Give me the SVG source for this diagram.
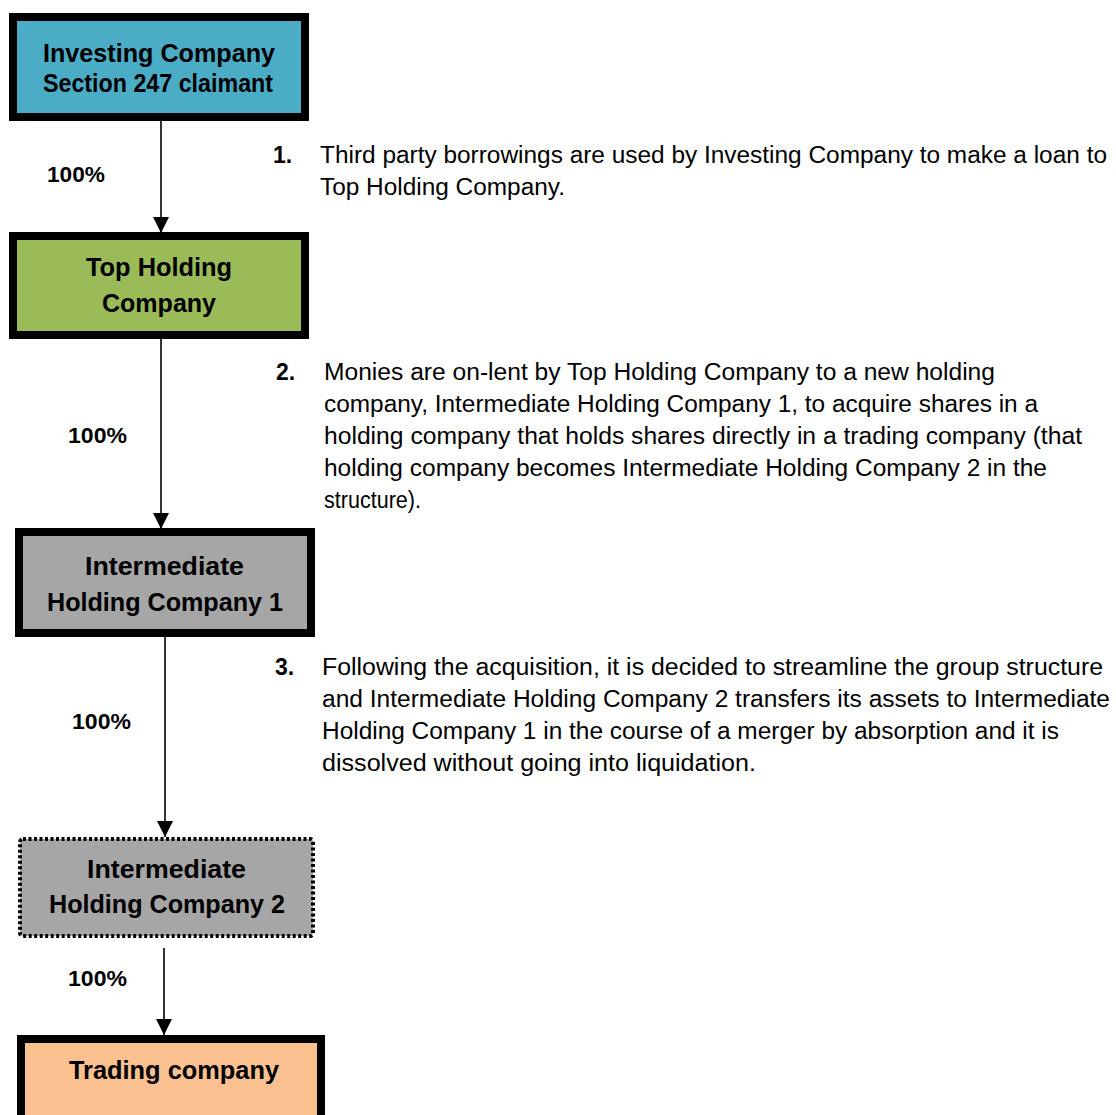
<svg xmlns="http://www.w3.org/2000/svg" width="1116" height="1115" viewBox="0 0 1116 1115">
<style>
.box{stroke:#000;stroke-width:8}
.t{font-family:"Liberation Sans",Arial,sans-serif;font-weight:bold;font-size:25px;fill:#000;text-anchor:middle}
.pct{font-family:"Liberation Sans",Arial,sans-serif;font-weight:bold;font-size:22px;fill:#000}
.num{font-family:"Liberation Sans",Arial,sans-serif;font-weight:bold;font-size:23px;fill:#000}
.b{font-family:"Liberation Sans",Arial,sans-serif;font-size:23px;fill:#000}
.c{stroke:#000;stroke-width:1.6;fill:none}
</style>
<defs>
<marker id="ah" markerUnits="userSpaceOnUse" markerWidth="16" markerHeight="16" viewBox="0 0 14 14" refX="14" refY="7" orient="auto">
<path d="M0,0 L14,7 L0,14 Z" fill="#000"/>
</marker>
</defs>
<rect width="1116" height="1115" fill="#fff"/>
<g id="connectors">
<line class="c" x1="161" y1="121" x2="161" y2="233" marker-end="url(#ah)"/>
<line class="c" x1="161" y1="339" x2="161" y2="529" marker-end="url(#ah)"/>
<line class="c" x1="165" y1="637" x2="165" y2="837" marker-end="url(#ah)"/>
<line class="c" x1="164" y1="948" x2="164" y2="1035" marker-end="url(#ah)"/>
</g>
<g id="investing">
<rect class="box" x="13" y="17" width="292" height="100" fill="#4BACC6"/>
<text class="t" x="159" y="62" textLength="232" lengthAdjust="spacingAndGlyphs">Investing Company</text>
<text class="t" x="158" y="92" font-size="23" textLength="230" lengthAdjust="spacingAndGlyphs">Section 247 claimant</text>
</g>
<g id="top-holding">
<rect class="box" x="13" y="236" width="292" height="99" fill="#9BBB59"/>
<text class="t" x="159" y="276" textLength="146" lengthAdjust="spacingAndGlyphs">Top Holding</text>
<text class="t" x="159" y="312" textLength="114" lengthAdjust="spacingAndGlyphs">Company</text>
</g>
<g id="ihc1">
<rect class="box" x="19" y="532" width="292" height="101" fill="#A6A6A6"/>
<text class="t" x="164.5" y="575" textLength="159" lengthAdjust="spacingAndGlyphs">Intermediate</text>
<text class="t" x="165" y="611" textLength="236" lengthAdjust="spacingAndGlyphs">Holding Company 1</text>
</g>
<g id="ihc2">
<rect x="20" y="839" width="293" height="97" rx="3" fill="#A6A6A6" stroke="#000" stroke-width="4" stroke-dasharray="3 2.5"/>
<text class="t" x="166.5" y="878" textLength="159" lengthAdjust="spacingAndGlyphs">Intermediate</text>
<text class="t" x="167" y="913" textLength="236" lengthAdjust="spacingAndGlyphs">Holding Company 2</text>
</g>
<g id="trading">
<rect class="box" x="21" y="1039" width="300" height="90" fill="#FAC090"/>
<text class="t" x="174" y="1079" textLength="210" lengthAdjust="spacingAndGlyphs">Trading company</text>
</g>
<g id="labels">
<text class="pct" x="47" y="182" textLength="58" lengthAdjust="spacingAndGlyphs">100%</text>
<text class="pct" x="68" y="443" textLength="59" lengthAdjust="spacingAndGlyphs">100%</text>
<text class="pct" x="72" y="729" textLength="59" lengthAdjust="spacingAndGlyphs">100%</text>
<text class="pct" x="68" y="986" textLength="59" lengthAdjust="spacingAndGlyphs">100%</text>
</g>
<g id="note1">
<text class="num" x="273" y="163">1.</text>
<text class="b" x="320" y="163" textLength="787" lengthAdjust="spacingAndGlyphs">Third party borrowings are used by Investing Company to make a loan to</text>
<text class="b" x="320" y="195" textLength="245" lengthAdjust="spacingAndGlyphs">Top Holding Company.</text>
</g>
<g id="note2">
<text class="num" x="276" y="380">2.</text>
<text class="b" x="324" y="380" textLength="671" lengthAdjust="spacingAndGlyphs">Monies are on-lent by Top Holding Company to a new holding</text>
<text class="b" x="324" y="412" textLength="714" lengthAdjust="spacingAndGlyphs">company, Intermediate Holding Company 1, to acquire shares in a</text>
<text class="b" x="324" y="444" textLength="758" lengthAdjust="spacingAndGlyphs">holding company that holds shares directly in a trading company (that</text>
<text class="b" x="324" y="476" textLength="723" lengthAdjust="spacingAndGlyphs">holding company becomes Intermediate Holding Company 2 in the</text>
<text class="b" x="324" y="508" textLength="97" lengthAdjust="spacingAndGlyphs">structure).</text>
</g>
<g id="note3">
<text class="num" x="275" y="675">3.</text>
<text class="b" x="322" y="675" textLength="781" lengthAdjust="spacingAndGlyphs">Following the acquisition, it is decided to streamline the group structure</text>
<text class="b" x="322" y="707" textLength="788" lengthAdjust="spacingAndGlyphs">and Intermediate Holding Company 2 transfers its assets to Intermediate</text>
<text class="b" x="322" y="739" textLength="737" lengthAdjust="spacingAndGlyphs">Holding Company 1 in the course of a merger by absorption and it is</text>
<text class="b" x="322" y="771" textLength="434" lengthAdjust="spacingAndGlyphs">dissolved without going into liquidation.</text>
</g>
</svg>
